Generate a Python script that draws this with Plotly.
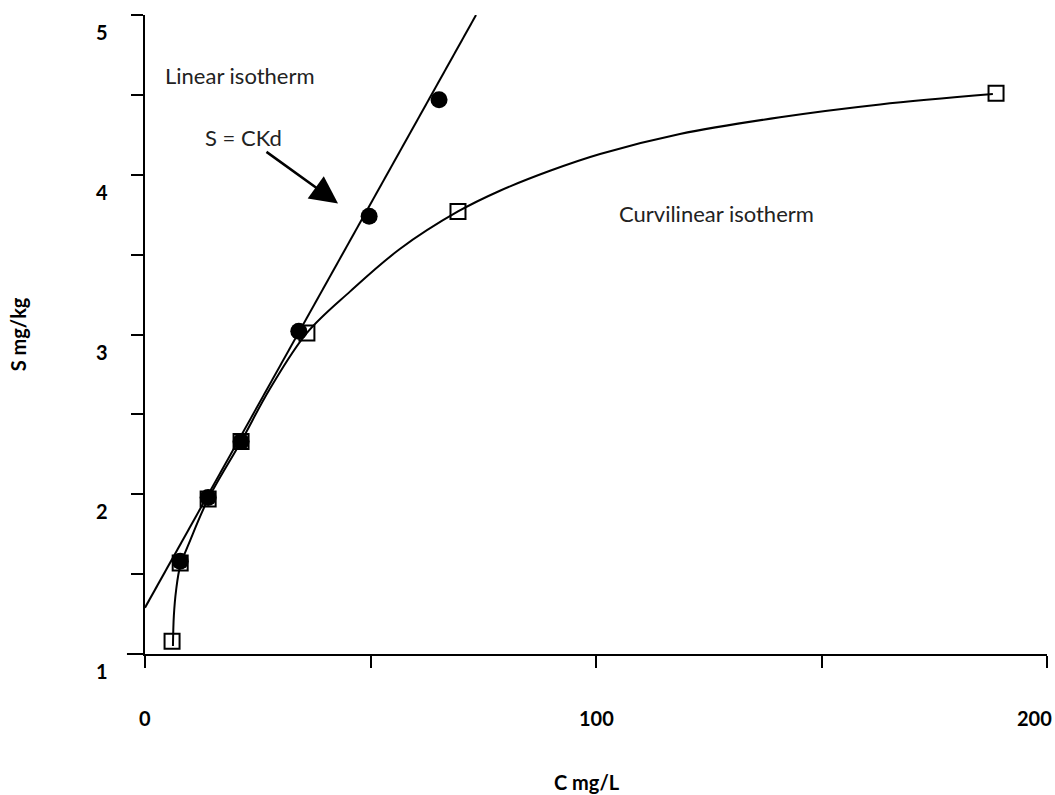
import plotly.graph_objects as go

# Data
circle_c = [7.8, 14.0, 21.3, 34.1, 49.7, 65.2]
circle_s = [1.58, 1.98, 2.33, 3.02, 3.74, 4.47]

square_c = [6.0, 7.8, 14.0, 21.3, 35.9, 69.4, 188.7]
square_s = [1.08, 1.57, 1.97, 2.33, 3.01, 3.77, 4.51]

linear_c = [0.0, 73.4]
linear_s = [1.29, 5.0]

curve_c = [6.2, 6.4, 6.9, 7.8, 10.0, 14.0, 21.3, 27.7, 35.9, 45.5, 56.5, 69.4,
           78.7, 89.8, 100.9, 118.6, 140.8, 163.0, 188.0]
curve_s = [1.05, 1.24, 1.40, 1.55, 1.71, 1.97, 2.33, 2.66, 3.01, 3.27, 3.535, 3.77,
           3.90, 4.025, 4.13, 4.255, 4.36, 4.44, 4.505]

x_tickvals = [0, 50, 100, 150, 200]
x_labelvals = [0, 100, 200]
x_labeltext = ["0", "100", "200"]
y_tickvals = [1, 1.5, 2, 2.5, 3, 3.5, 4, 4.5, 5]
y_labelvals = [1, 2, 3, 4, 5]
y_labeltext = ["1", "2", "3", "4", "5"]

FONT = "Lato, 'Open Sans', sans-serif"

fig = go.Figure()

fig.add_trace(go.Scatter(x=linear_c, y=linear_s, mode="lines",
                         line=dict(color="black", width=2), hoverinfo="skip"))
fig.add_trace(go.Scatter(x=curve_c, y=curve_s, mode="lines",
                         line=dict(color="black", width=2, shape="spline", smoothing=1.0),
                         hoverinfo="skip"))
fig.add_trace(go.Scatter(x=circle_c, y=circle_s, mode="markers",
                         marker=dict(symbol="circle", size=17, color="black",
                                     line=dict(width=0))))
fig.add_trace(go.Scatter(x=square_c, y=square_s, mode="markers",
                         marker=dict(symbol="square-open", size=15, color="black",
                                     line=dict(width=2, color="black"))))

fig.update_layout(
    width=1055, height=795,
    margin=dict(l=145, r=8, t=15, b=141),
    paper_bgcolor="white", plot_bgcolor="white",
    showlegend=False,
    font=dict(family=FONT, color="black", size=16),
    xaxis=dict(range=[0, 200], tickvals=x_tickvals, showticklabels=False,
               showgrid=False, zeroline=False, showline=True, linecolor="black",
               linewidth=2, ticks="outside", ticklen=12, tickwidth=2, tickcolor="black",
               automargin=False),
    yaxis=dict(range=[1, 5], tickvals=y_tickvals, showticklabels=False,
               showgrid=False, zeroline=False, showline=True, linecolor="black",
               linewidth=2, ticks="outside", ticklen=12, tickwidth=2, tickcolor="black",
               automargin=False),
)

# x tick labels (last one kept inside the page edge)
for v, t in zip(x_labelvals, x_labeltext):
    last = v == x_labelvals[-1]
    fig.add_annotation(text="<b>" + t + "</b>", xref="x", yref="paper", x=v, y=0,
                       xanchor="right" if last else "center", yanchor="middle",
                       xshift=7 if last else 0, yshift=-64,
                       showarrow=False, font=dict(size=20, family=FONT, color="black"))

# y tick labels (left of axis, slightly below each tick as in the reference)
for v, t in zip(y_labelvals, y_labeltext):
    fig.add_annotation(text="<b>" + t + "</b>", xref="paper", yref="y", x=0, y=v,
                       xanchor="right", yanchor="middle", xshift=-35, yshift=-17,
                       showarrow=False, font=dict(size=20, family=FONT, color="black"))

# axis-line extensions (crossing axes)
fig.add_shape(type="line", xref="paper", yref="paper", x0=-0.02, x1=0, y0=0, y1=0,
              line=dict(color="black", width=2))
fig.add_shape(type="line", xref="paper", yref="paper", x0=0, x1=0, y0=-0.02, y1=0,
              line=dict(color="black", width=2))

# axis titles
fig.add_annotation(text="<b>C mg/L</b>", xref="paper", yref="paper", x=0.4895, y=-0.2,
                   showarrow=False, font=dict(size=20, family=FONT),
                   xanchor="center", yanchor="middle")
fig.add_annotation(text="<b>S mg/kg</b>", xref="paper", yref="paper", x=-0.141, y=0.5,
                   showarrow=False, textangle=-90, font=dict(size=20, family=FONT),
                   xanchor="center", yanchor="middle")

# labels
fig.add_annotation(text="Linear isotherm", x=4.0, y=4.624, xanchor="left",
                   showarrow=False, font=dict(size=22, family=FONT, color="#222"))
fig.add_annotation(text="S = CKd", x=12.9, y=4.236, xanchor="left",
                   showarrow=False, font=dict(size=22, family=FONT, color="#222"))
fig.add_annotation(text="Curvilinear isotherm", x=104.7, y=3.76, xanchor="left",
                   showarrow=False, font=dict(size=22, family=FONT, color="#222"))

# arrow
fig.add_annotation(x=42.8, y=3.82, ax=26.6, ay=4.15, xref="x", yref="y",
                   axref="x", ayref="y", text="", showarrow=True,
                   arrowhead=2, arrowsize=2.2, arrowwidth=2.5, arrowcolor="black")

fig.write_html("out.html", config={"displayModeBar": False},
               post_script="document.body.style.margin='0';document.body.style.overflow='hidden';")
